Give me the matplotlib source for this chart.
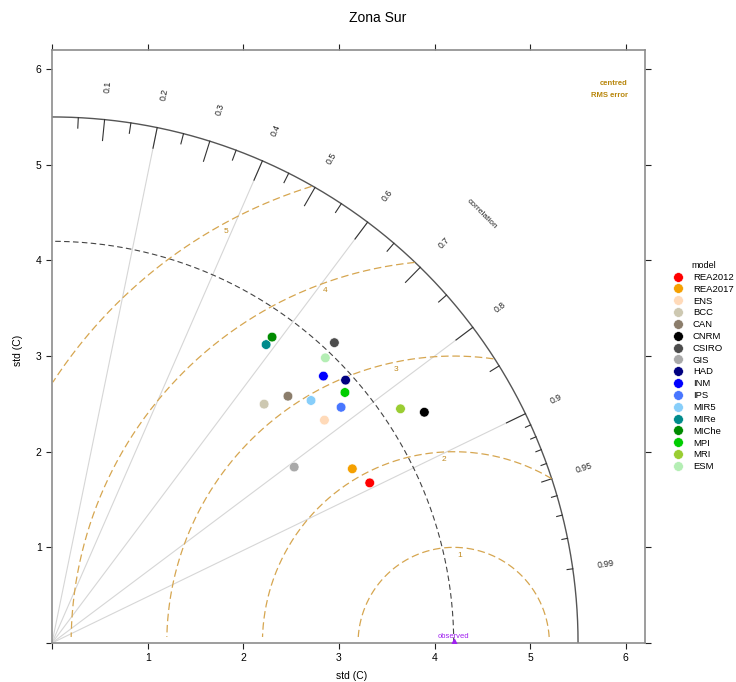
import numpy as np
import matplotlib
matplotlib.use('Agg')
import matplotlib.pyplot as plt
from matplotlib.lines import Line2D

plt.rcParams['font.family'] = ['Liberation Sans', 'DejaVu Sans']

# models: standard deviation (C) and correlation with the observations
models = ['REA2012', 'REA2017', 'ENS', 'BCC', 'CAN', 'CNRM', 'CSIRO', 'GIS', 'HAD',
          'INM', 'IPS', 'MIR5', 'MIRe', 'MIChe', 'MPI', 'MRI', 'ESM']
model_sd = [3.72, 3.63, 3.68, 3.34, 3.57, 4.58, 4.31, 3.13, 4.12,
            3.98, 3.90, 3.71, 3.84, 3.94, 4.03, 4.39, 4.13]
model_cor = [0.893, 0.865, 0.774, 0.664, 0.691, 0.850, 0.685, 0.809, 0.745,
             0.713, 0.775, 0.730, 0.583, 0.584, 0.760, 0.830, 0.692]
model_colors = ['#FF0000', '#F5A000', '#FFDAB9', '#CDC8B1', '#8B7D6B', '#000000',
                '#4D4D4D', '#A9A9A9', '#000080', '#0000FF', '#4876FF', '#87CEFA',
                '#008B8B', '#008B00', '#00CD00', '#9ACD32', '#B4EEB4']

obs_sd = 4.2
max_sd = 5.5
rms_levels = [1, 2, 3, 4, 5]
rms_label_angle = [86, 93, 102, 110, 119]
cor_lines = [0.2, 0.4, 0.6, 0.8, 0.9]
cor_labels = [0.1, 0.2, 0.3, 0.4, 0.5, 0.6, 0.7, 0.8, 0.9, 0.95, 0.99]
cor_major = [0.1, 0.2, 0.3, 0.4, 0.5, 0.6, 0.7, 0.8, 0.9]
cor_minor = [0.05, 0.15, 0.25, 0.35, 0.45, 0.55, 0.65, 0.75, 0.85, 0.95]
cor_fine = [0.91, 0.92, 0.93, 0.94, 0.96, 0.97, 0.98, 0.99]
std_ticks = [0, 1, 2, 3, 4, 5, 6]

fig = plt.figure(figsize=(7.36, 6.82), dpi=100)
ax = fig.add_axes([52 / 736, 39 / 682, 593 / 736, 593 / 682])
ax.set_xlim(0, 6.2)
ax.set_ylim(0, 6.2)

for sp in ax.spines.values():
    sp.set_color('#8c8c8c')
    sp.set_linewidth(1.2)
ax.set_xticks(std_ticks)
ax.set_yticks(std_ticks)
ax.set_xticklabels(['' if t == 0 else str(t) for t in std_ticks])
ax.set_yticklabels(['' if t == 0 else str(t) for t in std_ticks])
ax.tick_params(direction='out', top=True, right=True, labeltop=False, labelright=False,
               length=4.5, width=0.8, color='#222222', labelsize=7.5, pad=3)

# correlation rays
for c in cor_lines:
    th = np.arccos(c)
    ax.plot([0, max_sd * np.cos(th)], [0, max_sd * np.sin(th)], color='#d6d6d6', lw=0.8, zorder=1)

# outer arc + ticks
th = np.linspace(0, np.pi / 2, 300)
ax.plot(max_sd * np.cos(th), max_sd * np.sin(th), color='#555555', lw=1.0, zorder=2)


def arc_ticks(vals, length):
    for c in vals:
        a = np.arccos(c)
        ax.plot([max_sd * np.cos(a), (max_sd - length) * np.cos(a)],
                [max_sd * np.sin(a), (max_sd - length) * np.sin(a)],
                color='#333333', lw=0.8, zorder=2)


arc_ticks(cor_major, 0.22)
arc_ticks(cor_minor, 0.11)
arc_ticks(cor_fine, 0.06)

for c in cor_labels:
    a = np.arccos(c)
    ax.text(5.85 * np.cos(a), 5.85 * np.sin(a), f'{c:g}', rotation=np.degrees(a),
            ha='center', va='center', fontsize=6.3, color='#222222', rotation_mode='anchor')
ax.text(6.35 * np.cos(np.pi / 4), 6.35 * np.sin(np.pi / 4), 'correlation', rotation=-45,
        ha='center', va='center', fontsize=6, color='#222222', rotation_mode='anchor')

# observed sd arc
ax.plot(obs_sd * np.cos(th), obs_sd * np.sin(th), color='#444444', lw=0.8,
        ls=(0, (5, 3)), zorder=2)

# centred RMS error arcs
phi = np.linspace(0, np.pi, 600)
for rr, ang in zip(rms_levels, rms_label_angle):
    x = obs_sd + rr * np.cos(phi)
    y = rr * np.sin(phi)
    ok = (x >= 0) & (np.hypot(x, y) <= max_sd) & (y >= 0.06)
    x = np.where(ok, x, np.nan)
    y = np.where(ok, y, np.nan)
    ax.plot(x, y, color='#D6A650', lw=0.9, ls=(0, (6, 3)), zorder=2)
    a = np.radians(ang)
    ax.text(obs_sd + (rr - 0.08) * np.cos(a), (rr - 0.08) * np.sin(a), str(rr),
            ha='center', va='center', fontsize=6, color='#C08A20')

ax.text(6.02, 5.85, 'centred', ha='right', va='center', fontsize=5.5,
        color='#B8860B', fontweight='bold')
ax.text(6.02, 5.72, 'RMS error', ha='right', va='center', fontsize=5.5,
        color='#B8860B', fontweight='bold')

# model points
sd = np.array(model_sd)
cr = np.array(model_cor)
ax.scatter(sd * cr, sd * np.sqrt(1 - cr ** 2), s=48, c=model_colors,
           edgecolors='white', linewidths=0.4, zorder=5)

# observed
ax.scatter([obs_sd], [0], marker='^', s=35, color='#A020F0', zorder=6)
ax.text(obs_sd, 0.03, 'observed', ha='center', va='bottom', fontsize=5.5, color='#A020F0')

# legend
handles = [Line2D([], [], marker='o', ls='', markerfacecolor=c, markeredgecolor='white',
                  markeredgewidth=0.4, markersize=7) for c in model_colors]
leg = fig.legend(handles, models, title='model', loc='upper left',
                 bbox_to_anchor=(673 / 736, 1 - 261 / 682), frameon=False, fontsize=6.8,
                 title_fontsize=6.5, handletextpad=1.1, labelspacing=0.3, borderpad=0,
                 handlelength=1.0, borderaxespad=0)

fig.text(378 / 736, 1 - 18 / 682, 'Zona Sur', ha='center', va='center', fontsize=10)
fig.text(352 / 736, 1 - 676 / 682, 'std (C)', ha='center', va='center', fontsize=7.5)
fig.text(18 / 736, 1 - 350 / 682, 'std (C)', ha='center', va='center', fontsize=7.5,
         rotation=90)

fig.savefig('out.png', dpi=100)
